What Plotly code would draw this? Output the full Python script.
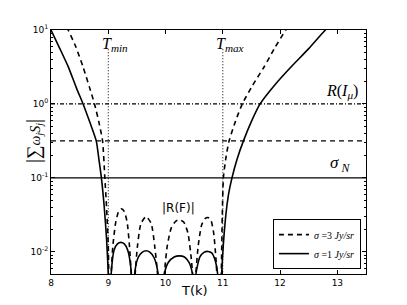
import plotly.graph_objects as go
import math

# ---------------- data ----------------
# sigma = 1 Jy/sr  (solid)
T_s1 = [7.95, 8.00, 8.15, 8.30, 8.45, 8.56, 8.68, 8.79, 8.84, 8.88, 8.93, 8.97, 9.00, 9.02,
        9.05, 9.10, 9.16, 9.22, 9.28, 9.34, 9.40, 9.43,
        9.44, 9.46, 9.52, 9.59, 9.66, 9.73, 9.80, 9.87, 9.90,
        9.95, 9.98, 10.05, 10.15, 10.24, 10.33, 10.41, 10.47, 10.50,
        10.51, 10.53, 10.60, 10.67, 10.74, 10.81, 10.87, 10.91, 10.93,
        10.96, 10.98, 11.05, 11.10, 11.16, 11.25, 11.36, 11.50, 11.65, 11.90, 12.19, 12.50, 12.79, 12.90]
R_s1 = [12.0, 10.0, 5.7, 3.2, 1.6, 1.0, 0.56, 0.316, 0.17, 0.1, 0.04, 0.015, 0.005, 0.001,
        0.005, 0.0105, 0.0128, 0.0134, 0.0128, 0.0105, 0.0055, 0.001,
        0.001, 0.005, 0.0083, 0.0098, 0.0103, 0.0098, 0.0083, 0.005, 0.001,
        0.001, 0.005, 0.0072, 0.0085, 0.0088, 0.0085, 0.0072, 0.005, 0.001,
        0.001, 0.005, 0.0085, 0.0098, 0.0101, 0.0096, 0.0075, 0.005, 0.001,
        0.001, 0.005, 0.03, 0.06, 0.1, 0.18, 0.316, 0.58, 1.0, 1.78, 3.16, 5.6, 10.0, 12.0]

# sigma = 3 Jy/sr  (dashed)
T_s3 = [8.20, 8.30, 8.43, 8.56, 8.67, 8.76, 8.84, 8.90, 8.94, 8.97, 9.00, 9.02,
        9.05, 9.08, 9.13, 9.18, 9.23, 9.28, 9.33, 9.37, 9.40, 9.43,
        9.44, 9.47, 9.51, 9.57, 9.66, 9.75, 9.81, 9.86, 9.89,
        9.95, 9.98, 10.03, 10.10, 10.18, 10.25, 10.32, 10.39, 10.45, 10.48, 10.50,
        10.51, 10.53, 10.57, 10.63, 10.69, 10.74, 10.79, 10.84, 10.88, 10.91, 10.93,
        10.97, 10.99, 11.01, 11.06, 11.11, 11.22, 11.34, 11.52, 11.72, 11.90, 12.10, 12.20]
R_s3 = [14.0, 10.0, 6.0, 3.16, 1.7, 1.0, 0.55, 0.316, 0.1, 0.04, 0.012, 0.002,
        0.005, 0.012, 0.025, 0.035, 0.038, 0.035, 0.025, 0.012, 0.005, 0.001,
        0.001, 0.005, 0.012, 0.024, 0.030, 0.024, 0.012, 0.005, 0.001,
        0.001, 0.005, 0.012, 0.021, 0.026, 0.027, 0.025, 0.018, 0.008, 0.004, 0.001,
        0.001, 0.005, 0.012, 0.023, 0.028, 0.029, 0.027, 0.018, 0.008, 0.003, 0.001,
        0.004, 0.03, 0.1, 0.2, 0.316, 0.58, 1.0, 1.78, 3.16, 5.6, 10.0, 12.5]

sigma_N = 0.1
three_sigma_N = 0.316
R_Imu = 1.0
T_min, T_max = 9.0, 11.0
dotted_top = 5.5

x_ticks = [8, 9, 10, 11, 12, 13]
y_tickvals = [0.01, 0.1, 1, 10]
y_ticktext = ["10<sup>-2</sup>", "10<sup>-1</sup>", "10<sup>0</sup>", "10<sup>1</sup>"]
x_range = [8, 13.5]
y_range_vals = [0.005, 10]

legend_labels = ["<i>σ</i> =3 <i>Jy/sr</i>", "<i>σ</i> =1 <i>Jy/sr</i>"]

# ---------------- figure ----------------
SERIF = "Liberation Serif"
SANS = "DejaVu Sans"

fig = go.Figure()
fig.add_trace(go.Scatter(x=T_s3, y=R_s3, mode="lines", name=legend_labels[0],
                         line=dict(color="black", width=1.6, dash="5px,4px", shape="spline", smoothing=0.6)))
fig.add_trace(go.Scatter(x=T_s1, y=R_s1, mode="lines", name=legend_labels[1],
                         line=dict(color="black", width=1.6, shape="spline", smoothing=0.6)))

# horizontal reference lines
fig.add_hline(y=sigma_N, line=dict(color="black", width=1.4))
fig.add_hline(y=three_sigma_N, line=dict(color="black", width=1.4, dash="5px,4px"))
fig.add_hline(y=R_Imu, line=dict(color="black", width=1.2, dash="4px,2px,1px,2px"))

# vertical dotted lines
for tv in (T_min, T_max):
    fig.add_shape(type="line", x0=tv, x1=tv, y0=y_range_vals[0] / 2, y1=dotted_top,
                  xref="x", yref="y", line=dict(color="black", width=1, dash="1px,2px"))

ann_font = dict(family=SERIF, size=16, color="black")
fig.add_annotation(x=T_min + 0.11, y=math.log10(6.3), text="<i>T<sub>min</sub></i>", showarrow=False, font=ann_font)
fig.add_annotation(x=T_max + 0.13, y=math.log10(6.3), text="<i>T<sub>max</sub></i>", showarrow=False, font=ann_font)
fig.add_annotation(x=13.08, y=math.log10(1.45), text="<i>R</i>(<i>I<sub>μ</sub></i>)", showarrow=False, font=ann_font)
fig.add_annotation(x=13.05, y=math.log10(0.155), text="<i>σ</i><sub> <i>N</i></sub>", showarrow=False,
                   font=dict(family=SERIF, size=17, color="black"))
fig.add_annotation(x=10.22, y=math.log10(0.039), text="|R(F)|", showarrow=False,
                   font=dict(family=SANS, size=12, color="black"))

# axis titles as annotations
fig.add_annotation(xref="paper", yref="paper", x=-0.10, y=0.545, textangle=-90, showarrow=False,
                   text="<span style='font-size:20px'>|</span><span style='font-size:19px'>∑</span>"
                        "<i>ω<sub>j</sub>S<sub>j</sub></i><span style='font-size:20px'>|</span>",
                   font=dict(family=SERIF, size=14, color="black"))
fig.add_annotation(xref="paper", yref="paper", x=0.454, y=-0.03, yanchor="top", showarrow=False,
                   text="T(k)", font=dict(family=SANS, size=13, color="black"))

fig.update_layout(
    width=407, height=305,
    margin=dict(l=51, r=41, t=30, b=31, autoexpand=False),
    plot_bgcolor="white", paper_bgcolor="white",
    showlegend=True,
    legend=dict(x=0.984, y=0.02, xanchor="right", yanchor="bottom",
                bgcolor="white", bordercolor="black", borderwidth=1,
                font=dict(family=SERIF, size=10, color="black"),
                tracegroupgap=0, itemwidth=30),
)
fig.update_xaxes(range=x_range, tickvals=x_ticks, ticks="inside", ticklen=4, tickcolor="black",
                 showline=True, linecolor="black", linewidth=1, mirror="ticks",
                 showgrid=False, zeroline=False, automargin=False,
                 tickfont=dict(family=SANS, size=9, color="black"))
fig.update_yaxes(type="log", range=[math.log10(v) for v in y_range_vals],
                 tickmode="array", tickvals=y_tickvals, ticktext=y_ticktext,
                 ticks="inside", ticklen=4, tickcolor="black",
                 showline=True, linecolor="black", linewidth=1, mirror="ticks",
                 showgrid=False, zeroline=False, automargin=False,
                 minor=dict(ticks="inside", ticklen=2, tickcolor="black", dtick="D1", showgrid=False),
                 tickfont=dict(family=SANS, size=9, color="black"))

fig.write_html("out.html", config={"displayModeBar": False},
               post_script="document.body.style.margin='0';")
